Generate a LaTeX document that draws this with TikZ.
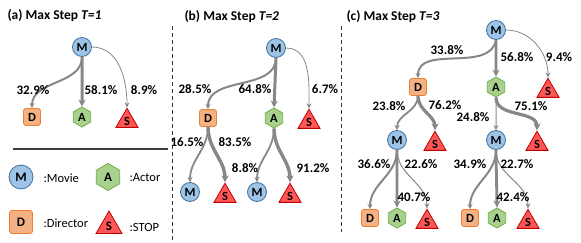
\documentclass[tikz,border=0pt]{standalone}
\usepackage{fontspec}
\setmainfont{Carlito}
\usetikzlibrary{arrows.meta,shapes.geometric}
\definecolor{mfill}{HTML}{9DC3E6}
\definecolor{mdraw}{HTML}{41719C}
\definecolor{dfill}{HTML}{F4B183}
\definecolor{ddraw}{HTML}{ED7D31}
\definecolor{afill}{HTML}{A9D18E}
\definecolor{adraw}{HTML}{70AD47}
\definecolor{sfill}{HTML}{FF5757}
\definecolor{sdraw}{HTML}{C00000}
\definecolor{egray}{RGB}{135,135,135}
\tikzset{
  nd/.style={inner sep=0pt, line width=0.8pt, font=\fontsize{12.5}{13}\selectfont\bfseries},
  mnode/.style={nd, circle, fill=mfill, draw=mdraw, minimum size=19pt},
  dnode/.style={nd, rectangle, rounded corners=2.5pt, fill=dfill, draw=ddraw, minimum size=17pt},
  anode/.style={nd, regular polygon, regular polygon sides=6, shape border rotate=30, fill=afill, draw=adraw, minimum size=20pt},
  snode/.style={nd, regular polygon, regular polygon sides=3, fill=sfill, draw=sdraw, minimum size=25.5pt},
  lg/.style={minimum size=#1, font=\fontsize{13}{14}\selectfont\bfseries},
  lgtext/.style={anchor=west, font=\fontsize{12.5}{14}\selectfont},
  pct/.style={font=\fontsize{13}{15}\selectfont\bfseries, inner sep=0.5pt},
  ttl/.style={anchor=west, font=\fontsize{13.5}{15}\selectfont\bfseries},
  ed/.style={draw=egray, line width=#1, -{Stealth[length=5pt,width=5pt]}},
  edk/.style={draw=egray, line width=#1, -{Stealth[length=7pt,width=7pt]}},
}
\begin{document}
\begin{tikzpicture}[x=1pt,y=-1pt]
\useasboundingbox (0,0) rectangle (581,242);
% titles
\node[ttl] (ta) at (4,16) {(a) Max Step \textit{T=1}};
\node[ttl] (tb) at (181,17) {(b) Max Step \textit{T=2}};
\node[ttl] (tc) at (343,17) {(c) Max Step \textit{T=3}};
% separators
\coordinate (d1a) at (172,26); \coordinate (d1b) at (172,242);
\coordinate (d2a) at (341,26); \coordinate (d2b) at (341,232);
\draw[black!80, line width=0.9pt, dash pattern=on 4pt off 3pt] (d1a) -- (d1b);
\draw[black!80, line width=0.9pt, dash pattern=on 4pt off 3pt] (d2a) -- (d2b);
\coordinate (h1) at (13,149); \coordinate (h2) at (168,149);
\draw[black!75, line width=1.1pt] (h1) -- (h2);
% ---- panel (a)
\node[mnode] (Ma) at (82,47) {M};
\node[dnode] (Da) at (32,117) {D};
\node[anode] (Aa) at (82,117) {A};
\node[snode] (Sa) at (127,121) {S};
\draw[ed=2pt] (Ma.south) to[out=-90,in=90] (Da.north);
\draw[edk=3pt] (Ma.south) -- (Aa.north);
\draw[ed=0.8pt] (Ma.east) to[out=0,in=90] (Sa.north);
\node[pct] (la1) at (33,90) {32.9\%};
\node[pct] (la2) at (101,90) {58.1\%};
\node[pct] (la3) at (144,90) {8.9\%};
% legend
\node[mnode, lg=24pt] (Ml) at (21,177) {M};
\node[lgtext] (tMl) at (40,178) {:Movie};
\node[anode, lg=27pt] (Al) at (108,177) {A};
\node[lgtext] (tAl) at (126,178) {:Actor};
\node[dnode, lg=23pt] (Dl) at (21,222) {D};
\node[lgtext] (tDl) at (40,223) {:Director};
\node[snode, lg=30pt] (Sl) at (109,226) {S};
\node[lgtext] (tSl) at (126,227) {:STOP};
% ---- panel (b)
\node[mnode] (Mb) at (276,48) {M};
\node[dnode] (Db) at (208,118) {D};
\node[anode] (Ab) at (274,118) {A};
\node[snode] (Sb) at (309,122) {S};
\node[mnode] (Mb1) at (190,192) {M};
\node[snode] (Sb1) at (225,196) {S};
\node[mnode] (Mb2) at (257,192) {M};
\node[snode] (Sb2) at (290,196) {S};
\draw[ed=2pt] (Mb.south) to[out=-90,in=90] (Db.north);
\draw[edk=3pt] (Mb.south) -- (Ab.north);
\draw[ed=0.8pt] (Mb.east) to[out=0,in=90] (Sb.north);
\draw[ed=1.8pt] (Db.south) to[out=-90,in=90] (Mb1.north);
\draw[edk=3.4pt] (Db.south) to[out=-90,in=90] (Sb1.north);
\draw[ed=1.8pt] (Ab.south) to[out=-90,in=90] (Mb2.north);
\draw[edk=3.4pt] (Ab.south) to[out=-90,in=90] (Sb2.north);
\node[pct] (lb1) at (195,89) {28.5\%};
\node[pct] (lb2) at (255,89) {64.8\%};
\node[pct] (lb3) at (325,89) {6.7\%};
\node[pct] (lb4) at (187,142) {16.5\%};
\node[pct] (lb5) at (235,142) {83.5\%};
\node[pct] (lb6) at (245,168) {8.8\%};
\node[pct] (lb7) at (313,168) {91.2\%};
% ---- panel (c)
\node[mnode] (Mc) at (496,30) {M};
\node[dnode] (Dc) at (418,87) {D};
\node[anode] (Ac) at (496,87) {A};
\node[snode] (Sc) at (548,91) {S};
\node[mnode] (Mc1) at (397,140) {M};
\node[snode] (Sc1) at (435,144) {S};
\node[mnode] (Mc2) at (496,140) {M};
\node[snode] (Sc2) at (537,144) {S};
\node[dnode] (Dc1) at (370,218) {D};
\node[anode] (Ac1) at (397,218) {A};
\node[snode] (Sc3) at (427,222) {S};
\node[dnode] (Dc2) at (470,218) {D};
\node[anode] (Ac2) at (497,218) {A};
\node[snode] (Sc4) at (528,222) {S};
\draw[ed=2pt] (Mc.south) to[out=-100,in=90] (Dc.north);
\draw[edk=2.8pt] (Mc.south) -- (Ac.north);
\draw[ed=0.8pt] (Mc.east) to[out=0,in=90] (Sc.north);
\draw[ed=1.8pt] (Dc.south) to[out=-90,in=90] (Mc1.north);
\draw[edk=3.2pt] (Dc.south) to[out=-90,in=90] (Sc1.north);
\draw[ed=1pt] (Ac.south) -- (Mc2.north);
\draw[edk=3.2pt] (Ac.south) to[out=-90,in=90] (Sc2.north);
\draw[ed=2pt] (Mc1.south) to[out=-90,in=90] (Dc1.north);
\draw[edk=2.8pt] (Mc1.south) -- (Ac1.north);
\draw[ed=1pt] (Mc1.south) to[out=-90,in=90] (Sc3.north);
\draw[ed=2pt] (Mc2.south) to[out=-90,in=90] (Dc2.north);
\draw[edk=2.8pt] (Mc2.south) -- (Ac2.north);
\draw[ed=1pt] (Mc2.south) to[out=-90,in=90] (Sc4.north);
\node[pct] (lc1) at (447,50) {33.8\%};
\node[pct] (lc2) at (517,57) {56.8\%};
\node[pct] (lc3) at (559,57) {9.4\%};
\node[pct] (lc4) at (389,106) {23.8\%};
\node[pct] (lc5) at (445,105) {76.2\%};
\node[pct] (lc6) at (473,117) {24.8\%};
\node[pct] (lc7) at (531,106) {75.1\%};
\node[pct] (lc8) at (374,164) {36.6\%};
\node[pct] (lc9) at (421,164) {22.6\%};
\node[pct] (lc10) at (414,197) {40.7\%};
\node[pct] (lc11) at (470,164) {34.9\%};
\node[pct] (lc12) at (517,164) {22.7\%};
\node[pct] (lc13) at (513,197) {42.4\%};
\end{tikzpicture}
\end{document}
